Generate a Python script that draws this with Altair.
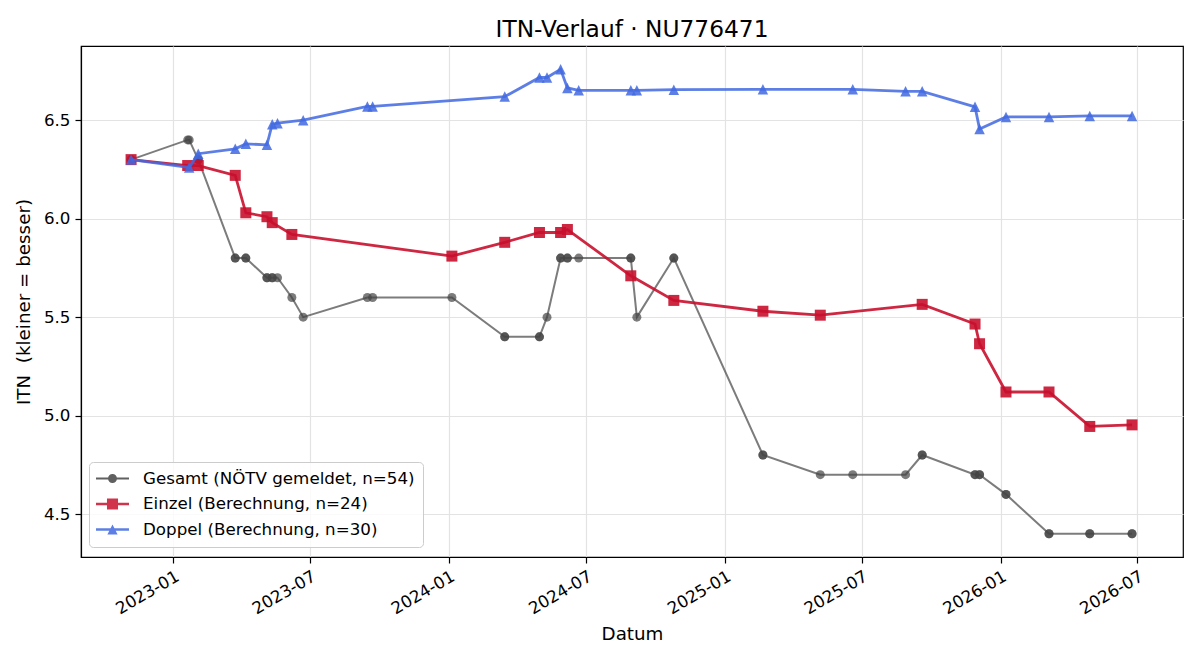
import altair as alt
import pandas as pd

# ---------------- data ----------------
gesamt_dates = [
    "2022-11-06", "2022-11-06", "2023-01-20", "2023-01-22", "2023-02-03", "2023-02-03",
    "2023-03-24", "2023-03-24", "2023-04-07", "2023-04-07", "2023-05-05", "2023-05-05",
    "2023-05-12", "2023-05-12", "2023-05-19", "2023-06-07", "2023-06-22", "2023-09-15",
    "2023-09-22", "2024-01-05", "2024-03-15", "2024-03-15", "2024-04-30", "2024-04-30",
    "2024-05-10", "2024-05-28", "2024-05-28", "2024-06-06", "2024-06-06", "2024-06-21",
    "2024-08-29", "2024-08-29", "2024-09-06", "2024-10-25", "2024-10-25", "2025-02-20",
    "2025-02-20", "2025-05-07", "2025-06-19", "2025-08-28", "2025-09-19", "2025-09-19",
    "2025-11-28", "2025-11-28", "2025-12-04", "2025-12-04", "2026-01-08", "2026-01-08",
    "2026-03-06", "2026-03-06", "2026-04-29", "2026-04-29", "2026-06-24", "2026-06-24",
]
gesamt_values = [
    6.3, 6.3, 6.4, 6.4, 6.3, 6.3,
    5.8, 5.8, 5.8, 5.8, 5.7, 5.7,
    5.7, 5.7, 5.7, 5.6, 5.5, 5.6,
    5.6, 5.6, 5.4, 5.4, 5.4, 5.4,
    5.5, 5.8, 5.8, 5.8, 5.8, 5.8,
    5.8, 5.8, 5.5, 5.8, 5.8, 4.8,
    4.8, 4.7, 4.7, 4.7, 4.8, 4.8,
    4.7, 4.7, 4.7, 4.7, 4.6, 4.6,
    4.4, 4.4, 4.4, 4.4, 4.4, 4.4,
]

einzel_dates = [
    "2022-11-06", "2023-01-20", "2023-02-03", "2023-03-24", "2023-04-07", "2023-05-05",
    "2023-05-12", "2023-06-07", "2024-01-05", "2024-03-15", "2024-04-30", "2024-05-28",
    "2024-06-06", "2024-08-29", "2024-10-25", "2025-02-20", "2025-05-07", "2025-09-19",
    "2025-11-28", "2025-12-04", "2026-01-08", "2026-03-06", "2026-04-29", "2026-06-24",
]
einzel_values = [
    6.30, 6.27, 6.27, 6.22, 6.03, 6.01,
    5.98, 5.92, 5.81, 5.88, 5.93, 5.93,
    5.945, 5.71, 5.585, 5.53, 5.51, 5.565,
    5.465, 5.365, 5.12, 5.12, 4.945, 4.953,
]

doppel_dates = [
    "2022-11-06", "2023-01-22", "2023-02-03", "2023-03-24", "2023-04-07", "2023-05-05",
    "2023-05-12", "2023-05-19", "2023-06-22", "2023-09-15", "2023-09-22", "2024-03-15",
    "2024-04-30", "2024-05-10", "2024-05-28", "2024-06-06", "2024-06-21", "2024-08-29",
    "2024-09-06", "2024-10-25", "2025-02-20", "2025-06-19", "2025-08-28", "2025-09-19",
    "2025-11-28", "2025-12-04", "2026-01-08", "2026-03-06", "2026-04-29", "2026-06-24",
]
doppel_values = [
    6.30, 6.26, 6.33, 6.355, 6.38, 6.375,
    6.48, 6.485, 6.50, 6.57, 6.57, 6.62,
    6.717, 6.717, 6.759, 6.664, 6.652, 6.652,
    6.652, 6.655, 6.657, 6.657, 6.647, 6.647,
    6.568, 6.456, 6.517, 6.517, 6.522, 6.522,
]

series_labels = [
    "Gesamt (NÖTV gemeldet, n=54)",
    "Einzel (Berechnung, n=24)",
    "Doppel (Berechnung, n=30)",
]
series_colors = ["#444444", "#c8102e", "#4169e1"]

x_tick_dates = [(2023, 1), (2023, 7), (2024, 1), (2024, 7), (2025, 1), (2025, 7), (2026, 1), (2026, 7)]
y_ticks = [4.5, 5.0, 5.5, 6.0, 6.5]

FONT = "DejaVu Sans"

# ---------------- scales & axes ----------------
x_scale = alt.Scale(
    type="utc",
    domain=[
        alt.DateTime(year=2022, month=8, date=31, hours=16, utc=True),
        alt.DateTime(year=2026, month=8, date=30, hours=12, utc=True),
    ],
    nice=False,
)
y_scale = alt.Scale(domain=[4.282, 6.877], nice=False, zero=False)

x_axis = alt.Axis(
    values=[alt.DateTime(year=y, month=m, date=1, utc=True) for y, m in x_tick_dates],
    format="%Y-%m",
    labelAngle=330,
    labelAlign="right",
    labelBaseline="top",
    labelOverlap=False,
    labelFlush=False,
    titleY=82,
    titleBaseline="alphabetic",
)
y_axis = alt.Axis(
    values=y_ticks,
    format=".1f",
    labelOverlap=False,
    titleX=-52,
    titleAngle=270,
    titleBaseline="alphabetic",
)


def frame(dates, values):
    return pd.DataFrame({"Datum": dates, "ITN": values})


def base(df):
    return alt.Chart(df).encode(
        x=alt.X("Datum:T", scale=x_scale, axis=x_axis, title="Datum"),
        y=alt.Y("ITN:Q", scale=y_scale, axis=y_axis, title="ITN\u00a0 (kleiner = besser)"),
    )


tri_path = "M0,-1 L-1,1 L1,1 Z"

g = base(frame(gesamt_dates, gesamt_values))
e = base(frame(einzel_dates, einzel_values))
d = base(frame(doppel_dates, doppel_values))

layers = [
    g.mark_line(color=series_colors[0], strokeWidth=2, opacity=0.7),
    g.mark_point(shape="circle", filled=True, size=81, color=series_colors[0], opacity=0.7),
    e.mark_line(color=series_colors[1], strokeWidth=2.8, opacity=0.9),
    e.mark_point(shape="square", filled=True, size=121, color=series_colors[1], opacity=0.9),
    d.mark_line(color=series_colors[2], strokeWidth=2.8, opacity=0.85),
    d.mark_point(shape=tri_path, filled=True, size=110, color=series_colors[2], opacity=0.85),
]

# ---------------- legend (line + marker handles) ----------------
legend_paths = [
    "M-1.94,-0.12 L1.94,-0.12 L1.94,0.12 L-1.94,0.12 Z "
    "M0.53,0 A0.53,0.53 0 1,1 -0.53,0 A0.53,0.53 0 1,1 0.53,0 Z",
    "M-1.94,-0.16 L1.94,-0.16 L1.94,0.16 L-1.94,0.16 Z "
    "M-0.65,-0.65 L0.65,-0.65 L0.65,0.65 L-0.65,0.65 Z",
    "M-1.94,-0.16 L1.94,-0.16 L1.94,0.16 L-1.94,0.16 Z "
    "M0,-0.6 L0.6,0.6 L-0.6,0.6 Z",
]

legend_df = pd.DataFrame({
    "Datum": [gesamt_dates[0], einzel_dates[0], doppel_dates[0]],
    "ITN": [gesamt_values[0], einzel_values[0], doppel_values[0]],
    "Serie": series_labels,
})

legend_props = dict(
    title=None,
    orient="none",
    legendX=8,
    legendY=416,
    labelFont=FONT,
    labelFontSize=16.7,
    labelColor="black",
    labelLimit=500,
    symbolSize=289,
    symbolOffset=7,
    labelOffset=22,
    symbolOpacity=0.85,
    symbolStrokeWidth=0,
    padding=8,
    rowPadding=7.5,
    fillColor="rgba(255,255,255,0.8)",
    strokeColor="#cccccc",
    cornerRadius=4,
)

legend_layer = base(legend_df).mark_point(filled=True, opacity=0).encode(
    color=alt.Color(
        "Serie:N",
        scale=alt.Scale(domain=series_labels, range=series_colors),
        legend=alt.Legend(**legend_props),
    ),
    shape=alt.Shape(
        "Serie:N",
        scale=alt.Scale(domain=series_labels, range=legend_paths),
        legend=alt.Legend(**legend_props),
    ),
)

layers.append(legend_layer)

chart = (
    alt.layer(*layers)
    .properties(
        width=1102,
        height=511,
        title=alt.TitleParams(
            "ITN-Verlauf · NU776471",
            font=FONT,
            fontSize=23.3,
            fontWeight="normal",
            color="black",
            anchor="middle",
            baseline="alphabetic",
            offset=10,
            dy=24,
        ),
        autosize=alt.AutoSizeParams(type="none"),
        padding={"left": 81, "top": 46, "right": 17, "bottom": 103},
        background="white",
    )
    .configure_view(stroke="black", strokeWidth=1.2)
    .configure_axis(
        labelFont=FONT,
        labelFontSize=16.7,
        labelColor="black",
        titleFont=FONT,
        titleFontSize=18.3,
        titleFontWeight="normal",
        titleColor="black",
        tickColor="black",
        tickSize=6,
        tickWidth=1.2,
        domainColor="black",
        domainWidth=1.2,
        gridColor="#e3e3e3",
        gridWidth=1.2,
        labelPadding=5,
    )
)

chart.save("out.html", embed_options={"renderer": "svg", "actions": False})
